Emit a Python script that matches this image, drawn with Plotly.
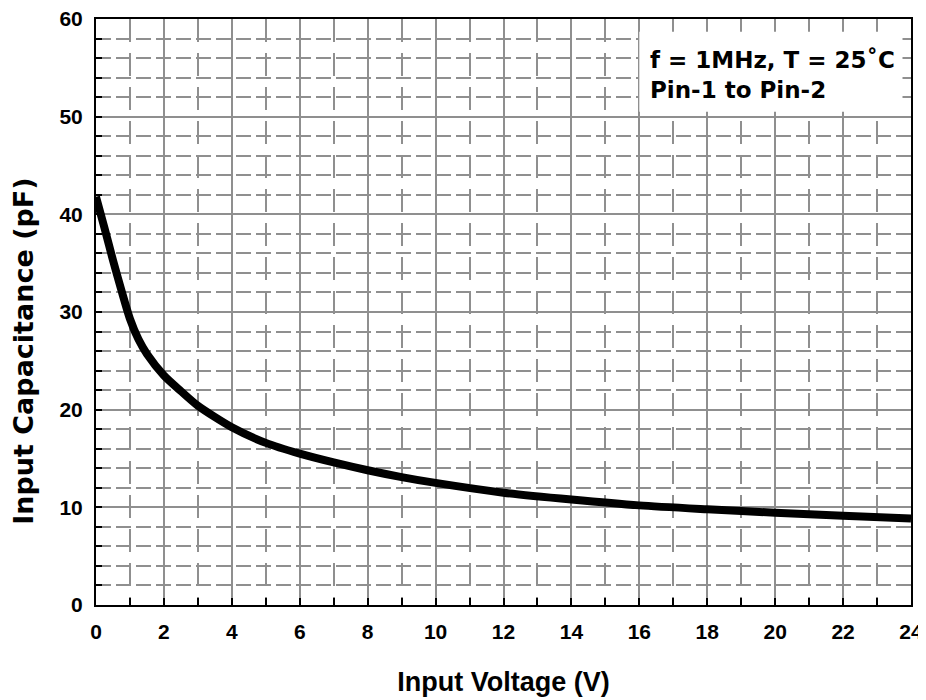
import plotly.graph_objects as go

# Data
voltage = [0, 0.25, 0.5, 0.75, 1, 1.25, 1.5, 2, 2.5, 3, 4, 5, 6, 7, 8, 9, 10, 12, 14, 16, 18, 20, 22, 24]
capacitance = [41.8, 38.6, 35.3, 32.2, 29.3, 27.2, 25.7, 23.5, 21.9, 20.4, 18.2, 16.6, 15.5, 14.6,
               13.8, 13.1, 12.5, 11.5, 10.8, 10.2, 9.8, 9.45, 9.15, 8.85]

x_ticks = list(range(0, 25, 2))
y_ticks = list(range(0, 61, 10))

note_lines = ["f = 1MHz, T = 25˚C", "Pin-1 to Pin-2"]
x_title = "Input Voltage (V)"
y_title = "Input Capacitance (pF)"

FONT = "Liberation Sans, Arial, sans-serif"
WIDE = "DejaVu Sans, Liberation Sans, sans-serif"
GRID = "#8f8f8f"

fig = go.Figure()
fig.add_trace(go.Scatter(
    x=voltage, y=capacitance, mode="lines",
    line=dict(color="black", width=8, shape="spline", smoothing=0.7),
    cliponaxis=False, showlegend=False, hoverinfo="skip",
))

fig.add_shape(type="rect", xref="x", yref="y", x0=16.0, x1=23.75, y0=50.5, y1=58.7,
              fillcolor="white", line=dict(width=0), layer="between")

fig.add_annotation(
    x=16.25, y=54.3, xref="x", yref="y", xanchor="left", yanchor="middle",
    text="<b>" + "<br>".join(note_lines) + "</b>", align="left", showarrow=False,
    font=dict(family=WIDE, size=23, color="black"),
)

# y-axis title placed as a rotated annotation (it sits below the plot centre in the reference)
fig.add_annotation(
    x=0, y=0.432, xref="paper", yref="paper", xshift=-72,
    xanchor="center", yanchor="middle", textangle=-90, showarrow=False,
    text="<b>" + y_title + "</b>", font=dict(family=WIDE, size=27, color="black"),
)

fig.update_xaxes(
    range=[0, 24], tickvals=x_ticks, ticktext=[str(v) for v in x_ticks],
    showgrid=True, gridcolor=GRID, gridwidth=1.5,
    showline=True, linecolor="black", linewidth=2, mirror=True,
    ticks="inside", ticklen=7, tickwidth=2, tickcolor="black",
    minor=dict(dtick=1, showgrid=True, gridcolor=GRID, gridwidth=1.5, griddash="23px,11px",
               ticks="inside", ticklen=7, tickwidth=2, tickcolor="black"),
    tickfont=dict(family=FONT, size=21, color="black", weight="bold"),
    ticklabelstandoff=7, ticklabeloverflow="allow",
    title=dict(text="<b>" + x_title + "</b>", font=dict(family=FONT, size=27, color="black"), standoff=30),
    zeroline=False, automargin=False,
)
fig.update_yaxes(
    range=[0, 60], tickvals=y_ticks, ticktext=[str(v) for v in y_ticks],
    showgrid=True, gridcolor=GRID, gridwidth=1.5,
    showline=True, linecolor="black", linewidth=2, mirror=True,
    ticks="inside", ticklen=6, tickwidth=2, tickcolor="black",
    minor=dict(dtick=2, showgrid=True, gridcolor=GRID, gridwidth=1.5, griddash="15px,5px",
               ticks="inside", ticklen=6, tickwidth=2, tickcolor="black"),
    tickfont=dict(family=FONT, size=21, color="black", weight="bold"),
    ticklabelstandoff=7, ticklabeloverflow="allow",
    zeroline=False, automargin=False,
)

# The page adds an 8px body margin, so the figure is sized to fit the 926x700 window.
fig.update_layout(
    width=918, height=692,
    margin=dict(l=88, r=15, t=11, b=95, autoexpand=False),
    paper_bgcolor="white", plot_bgcolor="white",
    font=dict(family=FONT, color="black"),
)

fig.write_html("out.html")
